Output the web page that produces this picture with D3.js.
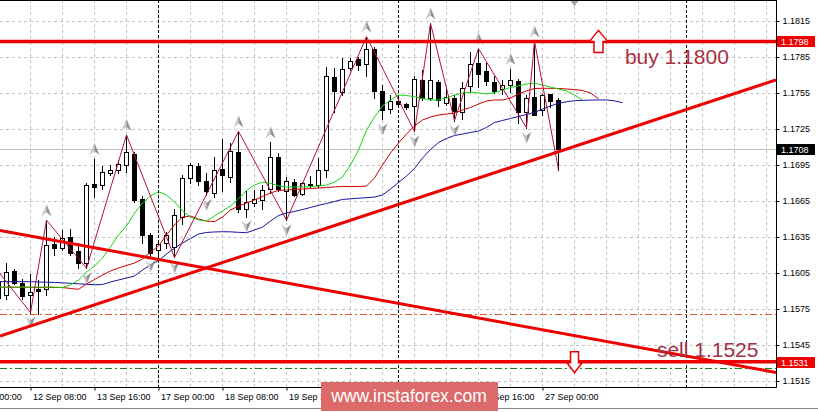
<!DOCTYPE html>
<html>
<head>
<meta charset="utf-8">
<script src="https://cdn.jsdelivr.net/npm/d3@7/dist/d3.min.js"></script>
<style>
  body { margin: 0; background: #fff; }
  svg { display: block; font-family: 'Liberation Sans', Arial, sans-serif; }
</style>
</head>
<body>
<svg id="chart" width="818" height="412"></svg>
<script>
// EURUSD H4, bar index of the first candle in the arrays
const firstBar = -1;

const opens = [
    1.1598, 1.1587, 1.1607, 1.1597, 1.1587, 1.1592, 1.1592, 1.1629, 1.1626, 1.1635,
    1.1623, 1.1613, 1.1679, 1.1678, 1.1688, 1.1691, 1.1695, 1.1704, 1.1667, 1.1637,
    1.1624, 1.1630, 1.1627, 1.1652, 1.1684, 1.1694, 1.1682, 1.1672, 1.1692, 1.1685,
    1.1706, 1.1658, 1.1663, 1.1666, 1.1675, 1.1702, 1.1673, 1.1681, 1.1671, 1.1679,
    1.1678, 1.1691, 1.1768, 1.1756, 1.1776, 1.1783, 1.1779, 1.1792, 1.1757, 1.1742,
    1.1748, 1.1746, 1.1744, 1.1766, 1.1751, 1.1764, 1.1747, 1.1751, 1.1739, 1.1761,
    1.1780, 1.1773, 1.1764, 1.1758, 1.1762, 1.1765, 1.1739, 1.1752, 1.1741, 1.1754, 1.1749
];
const highs = [
    1.1606, 1.1613, 1.1608, 1.1600, 1.1604, 1.1599, 1.1649, 1.1635, 1.1641, 1.1642,
    1.1630, 1.1680, 1.1700, 1.1694, 1.1695, 1.1699, 1.1720, 1.1706, 1.1669, 1.1638,
    1.1631, 1.1639, 1.1658, 1.1687, 1.1697, 1.1697, 1.1688, 1.1702, 1.1717, 1.1713,
    1.1723, 1.1673, 1.1674, 1.1678, 1.1714, 1.1705, 1.1685, 1.1683, 1.1681, 1.1686,
    1.1701, 1.1777, 1.1776, 1.1784, 1.1784, 1.1785, 1.1802, 1.1793, 1.1762, 1.1753,
    1.1752, 1.1747, 1.1769, 1.1774, 1.1813, 1.1766, 1.1758, 1.1753, 1.1764, 1.1789,
    1.1792, 1.1780, 1.1769, 1.1766, 1.1775, 1.1767, 1.1753, 1.1798, 1.1754, 1.1754, 1.1751
];
const lows = [
    1.1578, 1.1583, 1.1596, 1.1583, 1.1572, 1.1571, 1.1587, 1.1620, 1.1624, 1.1620,
    1.1609, 1.1609, 1.1668, 1.1675, 1.1687, 1.1688, 1.1689, 1.1664, 1.1630, 1.1619,
    1.1620, 1.1626, 1.1618, 1.1646, 1.1680, 1.1678, 1.1670, 1.1668, 1.1673, 1.1681,
    1.1656, 1.1652, 1.1661, 1.1658, 1.1672, 1.1673, 1.1649, 1.1669, 1.1670, 1.1677,
    1.1677, 1.1685, 1.1739, 1.1753, 1.1774, 1.1774, 1.1769, 1.1751, 1.1733, 1.1738,
    1.1743, 1.1742, 1.1723, 1.1749, 1.1749, 1.1744, 1.1745, 1.1732, 1.1733, 1.1756,
    1.1760, 1.1762, 1.1755, 1.1754, 1.1756, 1.1730, 1.1726, 1.1737, 1.1737, 1.1743, 1.1691
];
const closes = [
    1.1584, 1.1606, 1.1597, 1.1586, 1.1589, 1.1590, 1.1628, 1.1626, 1.1634, 1.1622,
    1.1613, 1.1678, 1.1677, 1.1689, 1.1691, 1.1696, 1.1706, 1.1666, 1.1637, 1.1622,
    1.1629, 1.1637, 1.1653, 1.1684, 1.1695, 1.1682, 1.1673, 1.1691, 1.1687, 1.1707,
    1.1658, 1.1664, 1.1667, 1.1674, 1.1702, 1.1675, 1.1682, 1.1670, 1.1680, 1.1678,
    1.1691, 1.1769, 1.1757, 1.1775, 1.1782, 1.1778, 1.1792, 1.1757, 1.1741, 1.1748,
    1.1746, 1.1743, 1.1767, 1.1751, 1.1766, 1.1749, 1.1752, 1.1740, 1.1759, 1.1779,
    1.1771, 1.1765, 1.1757, 1.1762, 1.1766, 1.1739, 1.1751, 1.1737, 1.1753, 1.1748, 1.1708
];

// Alligator lines, all starting at firstBar (shifted forward past the last bar)
const jaw = [
    1.15978, 1.15978, 1.15978, 1.15978, 1.15978, 1.15975, 1.15973, 1.15971, 1.15968, 1.15964,
    1.15960, 1.15956, 1.15952, 1.15954, 1.15975, 1.15992, 1.16008, 1.16025, 1.16075, 1.16117,
    1.16154, 1.16208, 1.16258, 1.16300, 1.16338, 1.16375, 1.16388, 1.16392, 1.16394, 1.16393,
    1.16389, 1.16386, 1.16408, 1.16433, 1.16483, 1.16529, 1.16550, 1.16563, 1.16579, 1.16596,
    1.16614, 1.16629, 1.16646, 1.16663, 1.16668, 1.16673, 1.16678, 1.16683, 1.16700, 1.16750,
    1.16804, 1.16858, 1.16921, 1.17008, 1.17079, 1.17138, 1.17171, 1.17196, 1.17208, 1.17221,
    1.17233, 1.17263, 1.17304, 1.17321, 1.17338, 1.17354, 1.17371, 1.17388, 1.17417, 1.17442,
    1.17464, 1.17477, 1.17486, 1.17489, 1.17491, 1.17492, 1.17492, 1.17485, 1.17469
];
const teeth = [
    1.15931, 1.15931, 1.15931, 1.15931, 1.15931, 1.15929, 1.15929, 1.15929, 1.15929, 1.15921,
    1.15914, 1.15958, 1.15996, 1.16033, 1.16067, 1.16092, 1.16113, 1.16133, 1.16167, 1.16225,
    1.16275, 1.16367, 1.16450, 1.16517, 1.16525, 1.16500, 1.16483, 1.16478, 1.16517, 1.16575,
    1.16608, 1.16633, 1.16658, 1.16688, 1.16717, 1.16738, 1.16742, 1.16746, 1.16750, 1.16754,
    1.16758, 1.16763, 1.16767, 1.16771, 1.16771, 1.16771, 1.16775, 1.16842, 1.16950, 1.17050,
    1.17133, 1.17208, 1.17275, 1.17325, 1.17350, 1.17367, 1.17375, 1.17383, 1.17408, 1.17429,
    1.17458, 1.17483, 1.17492, 1.17492, 1.17508, 1.17542, 1.17567, 1.17588, 1.17589, 1.17589,
    1.17588, 1.17583, 1.17579, 1.17571, 1.17550, 1.17500
];
const lips = [
    1.15933, 1.15933, 1.15933, 1.15933, 1.15933, 1.15933, 1.15933, 1.15933, 1.15929, 1.15950,
    1.15992, 1.16058, 1.16108, 1.16175, 1.16267, 1.16367, 1.16442, 1.16550, 1.16633, 1.16692,
    1.16729, 1.16700, 1.16642, 1.16567, 1.16517, 1.16492, 1.16483, 1.16525, 1.16567, 1.16608,
    1.16667, 1.16738, 1.16783, 1.16808, 1.16798, 1.16775, 1.16767, 1.16767, 1.16767, 1.16769,
    1.16775, 1.16783, 1.16808, 1.16850, 1.16950, 1.17075, 1.17242, 1.17350, 1.17442, 1.17492,
    1.17533, 1.17529, 1.17519, 1.17504, 1.17492, 1.17492, 1.17508, 1.17533, 1.17550, 1.17558,
    1.17550, 1.17542, 1.17553, 1.17575, 1.17596, 1.17608, 1.17625, 1.17631, 1.17617, 1.17600,
    1.17583, 1.17567, 1.17533, 1.17492
];

// zigzag vertices: [bar, price]
const zigzag = [
    [-1, 1.1606], [3, 1.1572], [5, 1.1649], [10, 1.1609], [15, 1.1720], [21, 1.1618],
    [29, 1.1723], [35, 1.1649], [45, 1.1802], [51, 1.1723], [53, 1.1813], [56, 1.1732],
    [59, 1.1792], [65, 1.1726], [66, 1.1798], [69, 1.1691]
];
const fractalsUp = [5, 11, 15, 29, 33, 45, 53, 59, 63, 66];
const fractalsDown = [3, 10, 18, 21, 25, 30, 35, 47, 51, 56, 65];

const priceTicks = [1.1515, 1.1545, 1.1575, 1.1605, 1.1635, 1.1665, 1.1695, 1.1725, 1.1755, 1.1785, 1.1815];
const timeTickBars = [-5, 3, 11, 19, 27, 35, 43, 51, 59, 67];
const timeTickLabels = ['11 Sep 00:00', '12 Sep 08:00', '13 Sep 16:00', '17 Sep 00:00', '18 Sep 08:00',
    '19 Sep 16:00', '21 Sep 00:00', '24 Sep 08:00', '25 Sep 16:00', '27 Sep 00:00'];
const separatorBars = [19, 49, 85];

const buyLevel = 1.1798;
const sellLevel = 1.1531;
const lastPrice = 1.1708;
const orangeLevel = 1.1571;
const greenLevel = 1.1526;
const risingLine = [[3, 1.15609], [69, 1.17061]];
const fallingLine = [[3, 1.16358], [69, 1.15553]];

const svg = d3.select('#chart');
const plotRight = 776;
const plotBottom = 387;

const x = d3.scaleLinear().domain([0, 96]).range([6.5, 774.5]);
const y = d3.scaleLinear().domain([1.1515, 1.1815]).range([381, 21]);
const crisp = (v) => Math.round(v) + 0.5;

const bars = opens.map((o, k) => ({i: k + firstBar, o: o, h: highs[k], l: lows[k], c: closes[k]}));

svg.append('defs').append('clipPath').attr('id', 'plot')
    .append('rect').attr('x', 0).attr('y', 1).attr('width', plotRight).attr('height', plotBottom - 1);

const plot = svg.append('g').attr('clip-path', 'url(#plot)');

// grid
plot.selectAll('.vgrid').data(d3.range(-1, 97, 4)).join('line')
    .attr('x1', (d) => x(d)).attr('x2', (d) => x(d))
    .attr('y1', 0).attr('y2', plotBottom)
    .attr('stroke', '#c4c4c4').attr('stroke-dasharray', '3,3');
plot.selectAll('.hgrid').data(priceTicks).join('line')
    .attr('x1', 0).attr('x2', plotRight)
    .attr('y1', (d) => crisp(y(d))).attr('y2', (d) => crisp(y(d)))
    .attr('stroke', '#c4c4c4').attr('stroke-dasharray', '3,3');

// period separators
plot.selectAll('.sep').data(separatorBars).join('line')
    .attr('x1', (d) => x(d)).attr('x2', (d) => x(d))
    .attr('y1', 0).attr('y2', plotBottom)
    .attr('stroke', '#000').attr('stroke-dasharray', '3,2');

// dash-dot levels and last price line
plot.append('line').attr('x1', 0).attr('x2', plotRight)
    .attr('y1', crisp(y(orangeLevel))).attr('y2', crisp(y(orangeLevel)))
    .attr('stroke', '#e2572c').attr('stroke-dasharray', '7,3,2,3');
plot.append('line').attr('x1', 0).attr('x2', plotRight)
    .attr('y1', crisp(y(greenLevel))).attr('y2', crisp(y(greenLevel)))
    .attr('stroke', '#1b7f2a').attr('stroke-dasharray', '7,3,2,3');
plot.append('line').attr('x1', 0).attr('x2', plotRight)
    .attr('y1', crisp(y(lastPrice))).attr('y2', crisp(y(lastPrice)))
    .attr('stroke', '#c0c0c0');

// candles
plot.selectAll('.wick').data(bars).join('line')
    .attr('x1', (d) => x(d.i)).attr('x2', (d) => x(d.i))
    .attr('y1', (d) => Math.round(y(d.h))).attr('y2', (d) => Math.round(y(d.l)) + 1)
    .attr('stroke', '#000');
plot.selectAll('.body').data(bars).join('rect')
    .attr('x', (d) => x(d.i) - 2)
    .attr('y', (d) => crisp(y(Math.max(d.o, d.c))))
    .attr('width', 4)
    .attr('height', (d) => Math.max(crisp(y(Math.min(d.o, d.c))) - crisp(y(Math.max(d.o, d.c))), 1))
    .attr('fill', (d) => d.c >= d.o ? '#fff' : '#000')
    .attr('stroke', '#000');

// alligator
const maLine = d3.line().x((d, k) => x(k + firstBar)).y((d) => y(d));
plot.append('path').attr('d', maLine(jaw)).attr('fill', 'none').attr('stroke', '#1414a0');
plot.append('path').attr('d', maLine(teeth)).attr('fill', 'none').attr('stroke', '#d00000');
plot.append('path').attr('d', maLine(lips)).attr('fill', 'none').attr('stroke', '#14d814');

// zigzag
plot.append('path')
    .attr('d', d3.line().x((d) => x(d[0])).y((d) => y(d[1]))(zigzag))
    .attr('fill', 'none').attr('stroke', '#b4123a');

// fractal arrows
const arrowUp = plot.selectAll('.fup').data(fractalsUp).join('g')
    .attr('transform', (i) => `translate(${x(i)},${y(highs[i - firstBar]) - 10})`);
arrowUp.append('path').attr('d', 'M0,-6 L-5,6 L0,2 Z').attr('fill', '#c9c9c9');
arrowUp.append('path').attr('d', 'M0,-6 L5,6 L0,2 Z').attr('fill', '#8f8f8f');
const arrowDown = plot.selectAll('.fdn').data(fractalsDown).join('g')
    .attr('transform', (i) => `translate(${x(i)},${y(lows[i - firstBar]) + 10})`);
arrowDown.append('path').attr('d', 'M0,6 L-5,-6 L0,-2 Z').attr('fill', '#c9c9c9');
arrowDown.append('path').attr('d', 'M0,6 L5,-6 L0,-2 Z').attr('fill', '#8f8f8f');

// chart shift marker
plot.append('path')
    .attr('d', `M${x(71) - 4},1 L${x(71) + 4},1 L${x(71)},6 Z`)
    .attr('fill', '#a0a0a0');

// trend lines, extended over the whole plot
function extend(pts) {
    const slope = (pts[1][1] - pts[0][1]) / (pts[1][0] - pts[0][0]);
    const b0 = x.invert(0), b1 = x.invert(plotRight);
    return [[b0, pts[0][1] + slope * (b0 - pts[0][0])], [b1, pts[0][1] + slope * (b1 - pts[0][0])]];
}
[risingLine, fallingLine].forEach((pts) => {
    const e = extend(pts);
    plot.append('line')
        .attr('x1', x(e[0][0])).attr('y1', y(e[0][1]))
        .attr('x2', x(e[1][0])).attr('y2', y(e[1][1]))
        .attr('stroke', '#ec0000').attr('stroke-width', 3);
});

[buyLevel, sellLevel].forEach((p) => {
    plot.append('line').attr('x1', 0).attr('x2', plotRight)
        .attr('y1', y(p)).attr('y2', y(p))
        .attr('stroke', '#ec0000').attr('stroke-width', 3.5);
});

// hollow arrows
const upX = x(74), upY = y(buyLevel);
plot.append('path')
    .attr('d', `M${upX},${upY - 11} L${upX + 9},${upY} L${upX + 4.5},${upY} L${upX + 4.5},${upY + 11}
        L${upX - 4.5},${upY + 11} L${upX - 4.5},${upY} L${upX - 9},${upY} Z`)
    .attr('fill', '#fff').attr('stroke', '#e80000').attr('stroke-width', 1.5);
const dnX = x(71), dnY = y(sellLevel);
plot.append('path')
    .attr('d', `M${dnX},${dnY + 11} L${dnX + 7.5},${dnY + 1} L${dnX + 4},${dnY + 1} L${dnX + 4},${dnY - 10}
        L${dnX - 4},${dnY - 10} L${dnX - 4},${dnY + 1} L${dnX - 7.5},${dnY + 1} Z`)
    .attr('fill', '#fff').attr('stroke', '#e80000').attr('stroke-width', 1.5);

plot.append('text').attr('x', x(77.3)).attr('y', y(1.1779))
    .attr('font-size', 21).attr('fill', '#ad2f3e').text('buy 1.1800');
plot.append('text').attr('x', x(81.3)).attr('y', y(1.15353))
    .attr('font-size', 21).attr('fill', '#a32f45').text('sell 1.1525');

// frame
svg.append('line').attr('x1', 0).attr('x2', plotRight + 0.5).attr('y1', 0.5).attr('y2', 0.5).attr('stroke', '#000');
svg.append('line').attr('x1', plotRight + 0.5).attr('x2', plotRight + 0.5).attr('y1', 0).attr('y2', plotBottom + 0.5).attr('stroke', '#000');
svg.append('line').attr('x1', 0).attr('x2', plotRight + 0.5).attr('y1', plotBottom + 0.5).attr('y2', plotBottom + 0.5).attr('stroke', '#000');
svg.append('line').attr('x1', 0).attr('x2', 818).attr('y1', 408.5).attr('y2', 408.5).attr('stroke', '#8a8a8a');

// price axis
const yAxis = svg.append('g')
    .attr('transform', `translate(${plotRight + 0.5},0)`)
    .call(d3.axisRight(y).tickValues(priceTicks).tickSize(3).tickPadding(3).tickFormat(d3.format('.4f')));
yAxis.select('.domain').remove();
yAxis.selectAll('text').attr('font-size', 9).attr('font-family', 'Liberation Sans, Arial, sans-serif').attr('fill', '#000');

// time axis
const xAxis = svg.append('g')
    .attr('transform', `translate(0,${plotBottom + 0.5})`)
    .call(d3.axisBottom(x).tickValues(timeTickBars).tickSize(3).tickFormat((d, k) => timeTickLabels[k]));
xAxis.select('.domain').remove();
xAxis.selectAll('text').attr('font-size', 9).attr('font-family', 'Liberation Sans, Arial, sans-serif')
    .attr('fill', '#000').attr('text-anchor', 'start').attr('x', 2);

// highlighted price labels
[[buyLevel, '#f00000'], [lastPrice, '#000'], [sellLevel, '#f00000']].forEach((d) => {
    const cy = Math.round(y(d[0]));
    svg.append('rect').attr('x', 777).attr('y', cy - 5).attr('width', 38).attr('height', 11).attr('fill', d[1]);
    svg.append('text').attr('x', 781).attr('y', cy + 3.5).attr('font-size', 9).attr('fill', '#fff')
        .text(d3.format('.4f')(d[0]));
});

// watermark, covers the time labels under it
svg.append('rect').attr('x', 321).attr('y', 382).attr('width', 177).attr('height', 29)
    .attr('fill', '#dc6a6a');
svg.append('text').attr('x', 409).attr('y', 402).attr('text-anchor', 'middle')
    .attr('font-size', 17.5).attr('fill', '#fff').text('www.instaforex.com');
</script>
</body>
</html>
